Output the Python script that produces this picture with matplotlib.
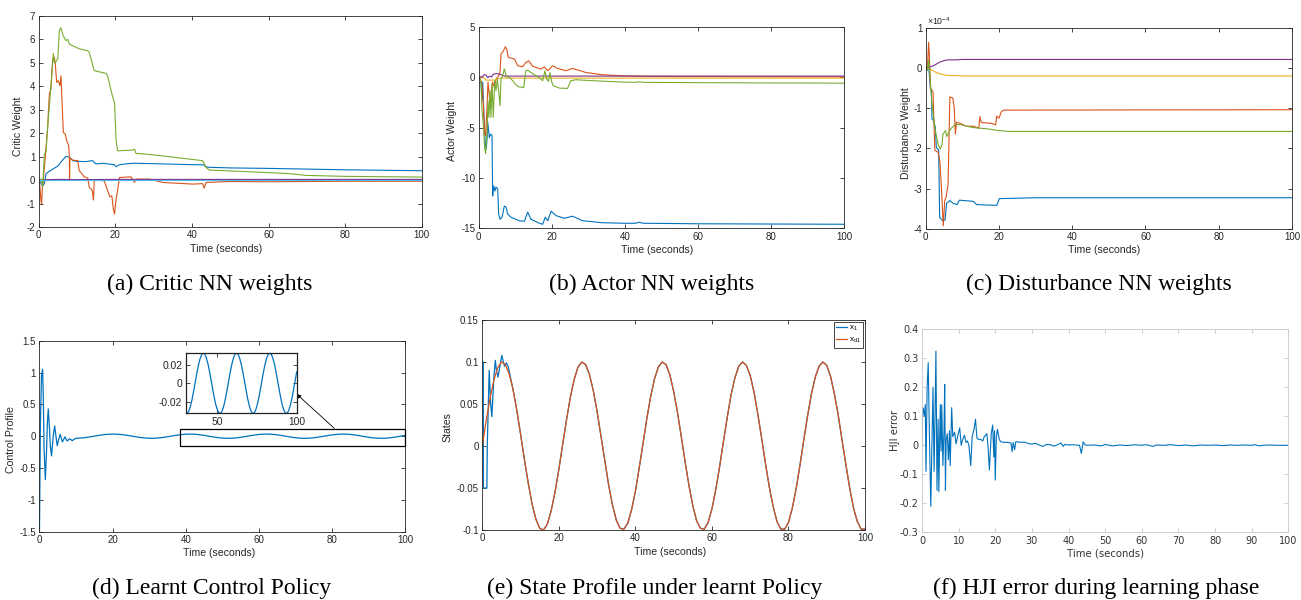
import matplotlib
matplotlib.use('Agg')
import matplotlib.pyplot as plt
from matplotlib.ticker import FuncFormatter
from matplotlib.patches import Rectangle

W, H = 1301, 600
plt.rcParams['font.family'] = ['Liberation Sans', 'DejaVu Sans']
plt.rcParams['axes.unicode_minus'] = False
plt.rcParams['mathtext.fontset'] = 'custom'
plt.rcParams['mathtext.rm'] = 'Liberation Sans'
plt.rcParams['mathtext.it'] = 'Liberation Sans:italic'
plt.rcParams['mathtext.bf'] = 'Liberation Sans:bold'
plt.rcParams['mathtext.sf'] = 'Liberation Sans'

# ---------------- DATA ----------------
# (a) critic weights: (time, value)
critic_blue = [(0, 0), (0.5, -0.1), (1.0, -0.25), (1.5, -0.15), (1.9, 0.26), (2.5, 0.35), (3.0, 0.4),
               (3.5, 0.45), (4.5, 0.55), (5.0, 0.6), (5.8, 0.77), (6.5, 0.9), (7.1, 1.01), (8.0, 0.98),
               (8.5, 0.9), (8.9, 0.83), (10, 0.8), (12.4, 0.79), (13.5, 0.82), (14.1, 0.83), (14.5, 0.75),
               (15, 0.69), (17, 0.72), (18.5, 0.68), (19.7, 0.66), (20.2, 0.57), (21, 0.65), (23, 0.7),
               (25, 0.72), (30, 0.7), (35, 0.68), (40, 0.66), (43, 0.65), (44, 0.55), (50, 0.52),
               (60, 0.5), (70, 0.47), (80, 0.44), (90, 0.42), (100, 0.4)]
critic_orange = [(0, 0), (0.17, 0), (0.6, -0.88), (0.77, -1.02), (0.95, -0.3), (1.2, 0), (1.73, 1.0),
                 (2.34, 2.25), (2.78, 3.67), (3.2, 3.9), (3.65, 5.16), (4.08, 5.23), (4.34, 4.95),
                 (4.69, 4.17), (5.1, 4.24), (5.56, 4.03), (5.82, 4.45), (6.08, 3.39), (6.43, 2.03),
                 (6.95, 1.96), (7.3, 1.68), (7.83, 1.47), (8.0, 0.97), (8.05, 0.0), (8.15, 0.95),
                 (8.87, 0.85), (10.2, 0.83), (10.6, 0.4), (11.9, 0.14), (12.8, 0.09), (13.2, -0.31),
                 (13.7, -0.38), (14.0, -0.45), (14.3, -0.85), (14.5, -0.03), (15.1, 0.0), (17.1, -0.03),
                 (18.0, -0.45), (18.6, -0.71), (19.1, -0.67), (19.5, -1.24), (19.8, -1.45), (20.0, -1.1),
                 (20.3, -0.74), (21.1, 0.11), (24.1, 0.14), (25.0, -0.1), (25.4, 0.04), (28.9, 0.04),
                 (32.4, -0.1), (40.2, -0.17), (42.8, -0.15), (43.2, -0.34), (43.7, -0.1), (50, -0.06),
                 (60, -0.07), (80, -0.05), (100, -0.05)]
critic_yellow = [(0, 0), (5, -0.01), (100, -0.02)]
critic_purple = [(0, 0), (2, 0.02), (5, 0.03), (10, 0.02), (20, 0.03), (30, 0.03), (100, 0.03)]
critic_green = [(0, 0), (0.6, 0.05), (1.04, -0.3), (1.47, 1.1), (1.9, 1.2), (2.4, 2.4), (3.0, 3.6),
                (3.5, 4.7), (3.82, 5.4), (4.1, 5.0), (4.5, 5.05), (5.0, 5.2), (5.4, 6.4), (5.8, 6.5),
                (6.3, 6.2), (7.1, 5.95), (7.6, 6.0), (8.0, 5.8), (8.9, 5.73), (10.6, 5.6), (12.8, 5.52),
                (13.2, 5.45), (14.5, 4.67), (17.6, 4.55), (18.0, 4.45), (18.9, 3.8), (19.5, 3.45),
                (19.8, 3.3), (20.2, 1.7), (20.6, 1.25), (24.5, 1.28), (25.0, 1.32), (25.4, 1.14),
                (28, 1.11), (34, 1.0), (42.8, 0.83), (43.7, 0.54), (44.6, 0.43), (48.9, 0.4), (60, 0.32),
                (65, 0.28), (70, 0.2), (80, 0.16), (100, 0.13)]
critic_cyan = [(0, 0), (100, 0)]

# (b) actor weights
actor_blue = [(0, 0), (0.17, 0), (0.63, -0.5), (0.9, -2.3), (1.09, -0.5), (1.54, -4.7), (1.8, -6.6),
              (2.09, -7.1), (2.36, -5.7), (2.45, -4.4), (2.9, -6.0), (3.27, -5.65), (3.64, -5.8),
              (3.82, -11.8), (4.09, -10.8), (4.46, -11.3), (4.73, -10.9), (5.2, -11.1), (5.46, -13.6),
              (5.83, -14.1), (6.4, -13.9), (7.0, -12.8), (7.5, -12.9), (7.92, -13.6), (8.83, -13.9),
              (11.1, -14.25), (12.5, -14.3), (13.4, -13.4), (14.3, -14.1), (16.6, -14.5), (17.5, -14.6),
              (18.2, -13.9), (18.9, -14.25), (19.8, -13.3), (21.2, -13.75), (23.4, -14.0),
              (25.7, -13.8), (28.4, -14.25), (33.9, -14.45), (40, -14.5), (43, -14.5), (43.7, -14.4),
              (45, -14.5), (60, -14.55), (100, -14.6)]
actor_orange = [(0, 0), (0.17, 0), (0.9, -0.7), (1.27, -2.7), (1.63, -5.65), (1.9, -5.8), (2.27, -3.0),
                (2.54, -0.5), (2.9, -1.85), (3.18, -3.2), (3.55, -1.0), (3.82, -0.5), (4.27, -1.0),
                (4.73, -0.2), (5.46, 0.13), (5.83, 0.46), (6.1, 2.28), (6.74, 2.6), (7.28, 3.0),
                (7.65, 2.78), (8.1, 1.95), (9.75, 1.8), (10.7, 1.12), (12.0, 1.03), (12.9, 1.45),
                (13.7, 1.62), (14.8, 1.06), (17.0, 0.8), (17.95, 1.0), (18.9, 0.63), (20.2, 1.12),
                (21.6, 0.86), (23.9, 0.63), (25.7, 0.86), (29.3, 0.46), (33.9, 0.23), (40, 0.12),
                (45, 0.08), (55, 0.05), (100, 0.02)]
actor_yellow = [(0, 0), (1.5, -0.1), (2.0, -0.3), (4.5, -0.3), (5.0, -0.2), (6.0, -0.1), (10, -0.1),
                (100, -0.1)]
actor_purple = [(0, 0), (1.0, 0.05), (1.5, 0.25), (2.0, 0.2), (2.5, -0.05), (3.0, 0.1), (3.5, 0.0),
                (4.0, 0.3), (5.0, 0.35), (6.0, 0.25), (7.0, 0.1), (10, 0.1), (100, 0.1)]
actor_green = [(0, 0), (0.17, 0), (0.63, -0.5), (0.9, -3.3), (1.27, -4.7), (1.63, -7.0), (1.9, -7.6),
               (2.27, -5.65), (2.54, -2.35), (2.8, -4.0), (3.09, -1.35), (3.36, -4.0), (3.64, -0.7),
               (4.0, -4.0), (4.37, -0.36), (4.73, -1.35), (5.1, -0.2), (5.46, -1.35), (5.83, -2.85),
               (6.1, -0.2), (6.55, 0.13), (7.0, 0.8), (7.65, 0.0), (8.4, 0.0), (9.3, -0.36), (10, -0.7),
               (10.9, -0.96), (12.3, -1.03), (12.9, 0.63), (13.4, 0.7), (14.3, 0.46), (15.7, 0.13),
               (17.0, -0.2), (17.5, -0.36), (18.1, 0.63), (18.6, -0.2), (19.1, -0.43), (19.5, 0.46),
               (20.0, -0.5), (20.4, -0.86), (22.1, -1.09), (24.3, -1.12), (25.2, -0.36), (26.6, -0.26),
               (31.2, -0.36), (40, -0.5), (43, -0.52), (44, -0.47), (45, -0.52), (60, -0.55),
               (80, -0.58), (100, -0.6)]

# (c) disturbance weights, in units of 1e-4
dist_scale = 1e-4
dist_blue = [(0, 0), (0.08, 0), (0.35, -0.07), (0.81, 0.05), (1.26, -0.48), (1.54, -0.57), (1.72, -1.27),
             (2.17, -1.31), (2.63, -1.48), (2.9, -1.98), (3.27, -2.02), (3.54, -2.04), (3.81, -3.72),
             (4.27, -3.76), (4.63, -3.8), (5.3, -3.78), (5.7, -3.37), (6.6, -3.3), (7.5, -3.37),
             (8.6, -3.4), (9.2, -3.29), (13, -3.32), (13.9, -3.4), (19.4, -3.42), (20.1, -3.25),
             (21.2, -3.25), (30, -3.23), (100, -3.23)]
dist_orange = [(0, 0), (0.5, 0.05), (0.8, 0.64), (1.0, 0.3), (1.3, -0.5), (2.0, -0.6), (2.3, -1.5),
               (2.5, -2.05), (3.4, -2.1), (3.9, -2.35), (4.3, -3.0), (4.8, -3.93), (5.2, -3.3),
               (5.6, -3.2), (6.1, -2.9), (6.6, -0.72), (7.4, -0.75), (7.8, -1.0), (8.1, -1.65),
               (8.4, -1.35), (10, -1.4), (11, -1.45), (13, -1.45), (14.5, -1.5), (14.8, -1.21),
               (15.2, -1.36), (18, -1.38), (19.1, -1.42), (19.4, -1.2), (20, -1.25), (20.6, -1.1),
               (21.2, -1.05), (100, -1.04)]
dist_yellow = [(0, 0), (1, -0.02), (2, -0.07), (3, -0.12), (4, -0.15), (5, -0.17), (6, -0.19),
               (8, -0.19), (10, -0.2), (100, -0.2)]
dist_purple = [(0, 0), (1, 0.02), (2, 0.05), (3, 0.1), (4, 0.15), (5, 0.18), (6, 0.2), (8, 0.2),
               (10, 0.21), (20, 0.21), (100, 0.21)]
dist_green = [(0, 0), (0.5, -0.05), (0.8, 0.2), (1.1, -0.1), (1.7, -0.9), (2.6, -1.56), (3.4, -1.9),
              (4.0, -2.02), (4.45, -1.9), (4.7, -1.65), (5.4, -1.56), (5.8, -1.71), (6.3, -1.6),
              (7.0, -1.5), (8.1, -1.4), (9.9, -1.42), (12.6, -1.48), (17.2, -1.52), (19.9, -1.56),
              (22.7, -1.58), (100, -1.58)]

# (d) control profile: early transient + sampled steady part (t = 10..100, step 1)
ctrl_transient = [(0, -1.8), (0.3, 0.2), (0.6, 0.95), (0.9, 1.05), (1.1, 0.6), (1.3, -0.2), (1.65, -0.68),
                  (2.0, -0.2), (2.2, 0.2), (2.45, 0.43), (2.8, 0.1), (3.0, -0.15), (3.35, -0.31),
                  (3.8, 0.0), (4.2, 0.16), (4.55, 0.0), (4.9, -0.15), (5.3, -0.05), (5.7, 0.03),
                  (6.3, -0.09), (7.0, -0.01), (7.6, -0.075), (8.3, -0.04), (9.0, -0.07), (9.5, -0.05)]
ctrl_ss_t = list(range(10, 101))
ctrl_ss_u = [-0.0329, -0.0306, -0.0255, -0.0182, -0.0092, 0.0006, 0.0103, 0.0191, 0.0262, 0.0310,
             0.0330, 0.0320, 0.0282, 0.0219, 0.0136, 0.0041, -0.0058, -0.0151, -0.0231, -0.0290,
             -0.0324, -0.0328, -0.0303, -0.0251, -0.0177, -0.0087, 0.0011, 0.0108, 0.0195, 0.0265,
             0.0311, 0.0330, 0.0319, 0.0279, 0.0215, 0.0131, 0.0036, -0.0063, -0.0156, -0.0235,
             -0.0293, -0.0325, -0.0328, -0.0301, -0.0248, -0.0172, -0.0082, 0.0017, 0.0113, 0.0200,
             0.0269, 0.0313, 0.0330, 0.0317, 0.0276, 0.0210, 0.0126, 0.0030, -0.0068, -0.0161,
             -0.0239, -0.0295, -0.0326, -0.0327, -0.0299, -0.0244, -0.0168, -0.0076, 0.0022, 0.0119,
             0.0204, 0.0272, 0.0315, 0.0330, 0.0316, 0.0273, 0.0206, 0.0121, 0.0025, -0.0074,
             -0.0166, -0.0243, -0.0298, -0.0327, -0.0326, -0.0296, -0.0240, -0.0165, -0.0071, 0.0028,
             0.0124]
zoom_box = (38.5, -0.154, 100, 0.108)       # t0, u0, t1, u1 of the highlighted region

# (e) states
state_t = list(range(0, 101))
state_xd = [0, .030, .056, .078, .093, .100, .097, .086, .068, .043,
            .014, -.016, -.044, -.069, -.087, -.098, -.100, -.093, -.077, -.055,
            -.028, .002, .031, .058, .079, .094, .100, .097, .085, .066,
            .041, .012, -.017, -.046, -.070, -.088, -.098, -.099, -.092, -.076,
            -.054, -.026, .003, .033, .059, .080, .094, .100, .097, .085,
            .065, .040, .011, -.019, -.047, -.071, -.089, -.098, -.099, -.091,
            -.075, -.052, -.025, .005, .034, .061, .081, .095, .100, .096,
            .084, .064, .038, .009, -.021, -.049, -.072, -.090, -.099, -.099,
            -.091, -.074, -.051, -.023, .007, .036, .062, .082, .095, .100,
            .096, .083, .062, .037, .007, -.022, -.050, -.074, -.090, -.099,
            -.099]
state_x1_transient = [(0, 0.1), (0.25, 0.1), (0.3, -0.05), (1.2, -0.05), (1.3, 0.0), (1.8, 0.09),
                      (2.2, 0.05), (2.5, 0.035), (3.0, 0.08), (3.4, 0.102), (3.7, 0.09), (4.1, 0.082),
                      (4.6, 0.095), (5.1, 0.108), (5.5, 0.1), (5.8, 0.095), (6.3, 0.099), (6.8, 0.094),
                      (7.3, 0.083)]
state_x1_join = 8   # from this sample on x1 follows the reference

# (f) HJI error
hji = [(0, 0.0), (0.15, 0.13), (0.3, 0.128), (0.6, 0.1), (0.9, 0.14), (1.1, -0.09), (1.4, 0.2),
       (1.7, 0.285), (2.0, 0.05), (2.4, -0.21), (2.7, 0.0), (3.0, 0.2), (3.3, -0.09), (3.55, 0.1),
       (3.8, 0.325), (4.1, -0.155), (4.4, 0.09), (4.6, -0.16), (4.8, 0.0), (5.0, 0.14), (5.2, -0.02),
       (5.4, 0.14), (5.7, -0.07), (6.0, 0.05), (6.2, 0.21), (6.4, -0.155), (6.6, 0.02), (6.9, 0.04),
       (7.2, -0.05), (7.5, 0.05), (7.7, -0.07), (8.1, 0.13), (8.4, 0.03), (8.9, 0.045), (9.3, 0.005),
       (9.8, 0.035), (10.3, 0.06), (10.7, 0.0), (11.1, 0.02), (11.6, 0.035), (12.0, 0.01),
       (12.4, 0.015), (12.8, 0.0), (13.3, -0.07), (13.7, 0.03), (14.2, 0.055), (14.6, 0.09),
       (15.0, 0.025), (15.5, 0.02), (16.1, 0.02), (16.6, 0.015), (17.0, 0.03), (17.7, 0.04),
       (18.0, 0.0), (18.4, -0.085), (18.9, 0.04), (19.3, 0.07), (19.6, -0.04), (19.8, 0.05),
       (20.0, -0.12), (20.3, 0.03), (20.6, 0.055), (21.1, 0.02), (21.5, 0.012), (22.5, 0.01),
       (23.5, 0.01), (24.3, 0.008), (24.6, -0.022), (24.9, 0.01), (25.3, -0.015), (25.6, 0.012),
       (26.0, 0.012), (27, 0.01), (28, 0.011), (29, 0.006), (30, 0.004), (31, 0.007), (32, 0.001),
       (33, -0.004), (34, 0.003), (35, 0.002), (36, -0.003), (37, 0.002), (38, 0.008),
       (38.5, -0.004), (39, 0.003), (40, 0.001), (41, 0.002), (42, 0.001), (43, 0.0),
       (43.5, -0.028), (44, 0.012), (44.5, 0.002), (45, 0.0), (47, 0.001), (49, -0.002),
       (50, 0.003), (52, -0.002), (54, 0.001), (56, -0.001), (58, 0.002), (60, 0.0), (61, 0.002),
       (62, 0.0), (63, -0.004), (64, 0.001), (66, 0.0), (68, 0.002), (70, -0.001), (72, 0.001),
       (74, -0.002), (76, 0.001), (78, 0.0), (80, 0.001), (82, -0.001), (84, 0.001), (86, 0.0),
       (88, 0.001), (90, 0.0), (91, 0.002), (92, -0.002), (93, 0.0), (95, 0.001), (97, 0.0),
       (100, 0.0)]

captions = ['(a) Critic NN weights', '(b) Actor NN weights', '(c) Disturbance NN weights',
            '(d) Learnt Control Policy', '(e) State Profile under learnt Policy',
            '(f) HJI error during learning phase']
ylabels = ['Critic Weight', 'Actor Weight', 'Disturbance Weight', 'Control Profile', 'States', 'HJI error']
xlabel = 'Time (seconds)'

# ---------------- STYLE ----------------
C_BLUE, C_ORANGE, C_YELLOW = '#0072BD', '#D95319', '#EDB120'
C_PURPLE, C_GREEN, C_CYAN = '#7E2F8E', '#77AC30', '#4DBEEE'
AXC = '#262626'


def unzip(pts):
    return [p[0] for p in pts], [p[1] for p in pts]


def rect(l, r, t, b):
    return [l / W, 1 - b / H, (r - l) / W, (b - t) / H]


def mfmt(v, pos=None):
    s = '%g' % round(v, 6)
    return '0' if s == '-0' else s


def style(ax, color=AXC, labcolor=AXC, family=None, size=7.0):
    for s in ax.spines.values():
        s.set_color(color)
        s.set_linewidth(0.6)
    ax.tick_params(direction='in', which='both', top=True, right=True, length=3, width=0.6,
                   color=color, labelcolor=labcolor, labelsize=size, pad=2.5)
    if family:
        for lab in ax.get_xticklabels() + ax.get_yticklabels():
            lab.set_family(family)


def labels(ax, box, ylab, ylab_px, xlab_px, family=None, color=AXC, size=7.6):
    l, r, t, b = box
    kw = dict(fontsize=size, color=color)
    if family:
        kw['family'] = family
    ax.set_ylabel(ylab, va='center', ha='center', **kw)
    ax.yaxis.set_label_coords((ylab_px[0] - l) / (r - l), (b - ylab_px[1]) / (b - t))
    ax.set_xlabel(xlabel, va='center', ha='center', **kw)
    ax.xaxis.set_label_coords((xlab_px[0] - l) / (r - l), (b - xlab_px[1]) / (b - t))


fig = plt.figure(figsize=(W / 100, H / 100), dpi=100)
LW = 0.8

# (a)
box_a = (38.7, 421.7, 16, 227)
ax = fig.add_axes(rect(*box_a))
for pts, c in [(critic_blue, C_BLUE), (critic_orange, C_ORANGE), (critic_yellow, C_YELLOW),
               (critic_purple, C_PURPLE), (critic_green, C_GREEN), (critic_cyan, C_CYAN)]:
    ax.plot(*unzip(pts), color=c, lw=LW)
ax.set_xlim(0, 100)
ax.set_ylim(-2, 7)
ax.set_xticks(range(0, 101, 20))
ax.set_yticks(range(-2, 8))
ax.xaxis.set_major_formatter(FuncFormatter(mfmt))
ax.yaxis.set_major_formatter(FuncFormatter(mfmt))
style(ax)
labels(ax, box_a, ylabels[0], (18, 126), (226, 249))

# (b)
box_b = (478.7, 844.3, 26.7, 228.3)
ax = fig.add_axes(rect(*box_b))
for pts, c in [(actor_blue, C_BLUE), (actor_orange, C_ORANGE), (actor_yellow, C_YELLOW),
               (actor_purple, C_PURPLE), (actor_green, C_GREEN)]:
    ax.plot(*unzip(pts), color=c, lw=LW)
ax.set_xlim(0, 100)
ax.set_ylim(-15, 5)
ax.set_xticks(range(0, 101, 20))
ax.set_yticks(range(-15, 6, 5))
ax.xaxis.set_major_formatter(FuncFormatter(mfmt))
ax.yaxis.set_major_formatter(FuncFormatter(mfmt))
style(ax)
labels(ax, box_b, ylabels[1], (452, 131), (657.5, 250))

# (c)
box_c = (925.7, 1292, 27.7, 228.7)
ax = fig.add_axes(rect(*box_c))
for pts, c in [(dist_blue, C_BLUE), (dist_orange, C_ORANGE), (dist_yellow, C_YELLOW),
               (dist_purple, C_PURPLE), (dist_green, C_GREEN)]:
    tt, vv = unzip(pts)
    ax.plot(tt, [v * dist_scale for v in vv], color=c, lw=LW)
ax.set_xlim(0, 100)
ax.set_ylim(-4 * dist_scale, 1 * dist_scale)
ax.set_xticks(range(0, 101, 20))
ax.set_yticks([k * dist_scale for k in range(-4, 2)])
ax.xaxis.set_major_formatter(FuncFormatter(mfmt))
ax.yaxis.set_major_formatter(FuncFormatter(lambda v, p: mfmt(v / dist_scale)))
style(ax)
labels(ax, box_c, ylabels[2], (906, 133), (1104.5, 250))
ax.text(0.003, 1.0 + (27.7 - 21) / 201, r'$\times$10$^{\mathrm{-4}}$', transform=ax.transAxes,
        ha='left', va='center', fontsize=6.3, color=AXC)

# (d)
box_d = (39.3, 405.3, 340.7, 531.7)
ax = fig.add_axes(rect(*box_d))
tt, uu = unzip(ctrl_transient)
ax.plot(tt + ctrl_ss_t, uu + ctrl_ss_u, color=C_BLUE, lw=0.9)
ax.set_xlim(0, 100)
ax.set_ylim(-1.5, 1.5)
ax.set_xticks(range(0, 101, 20))
ax.set_yticks([-1.5, -1, -0.5, 0, 0.5, 1, 1.5])
ax.xaxis.set_major_formatter(FuncFormatter(mfmt))
ax.yaxis.set_major_formatter(FuncFormatter(mfmt))
style(ax)
labels(ax, box_d, ylabels[3], (11, 440), (219, 553.5))
t0, u0, t1, u1 = zoom_box
ax.add_patch(Rectangle((t0, u0), t1 - t0, u1 - u0, fill=False, ec='black', lw=0.9, clip_on=False,
                       zorder=5))
ax.annotate('', xy=(70.3, 0.663), xytext=(80.6, 0.124),
            arrowprops=dict(arrowstyle='-|>', color='black', lw=0.6, mutation_scale=6,
                            shrinkA=0, shrinkB=0))
# inset
ins = fig.add_axes(rect(185.7, 296.7, 352.7, 413.3))
ins.plot(ctrl_ss_t, ctrl_ss_u, color=C_BLUE, lw=0.9)
ins.set_xlim(30, 100)
ins.set_ylim(-0.0328, 0.0334)
ins.set_xticks([50, 100])
ins.set_yticks([-0.02, 0, 0.02])
ins.xaxis.set_major_formatter(FuncFormatter(mfmt))
ins.yaxis.set_major_formatter(FuncFormatter(mfmt))
style(ins, size=7.4)
for s in ins.spines.values():
    s.set_linewidth(0.9)
    s.set_color('#222222')

# (e)
box_e = (482.3, 865, 320, 530)
ax = fig.add_axes(rect(*box_e))
tx, vx = unzip(state_x1_transient)
ax.plot(tx + state_t[state_x1_join:], vx + state_xd[state_x1_join:], color=C_BLUE, lw=0.9,
        label=r'x$_{1}$')
ax.plot(state_t, state_xd, color=C_ORANGE, lw=0.9, label=r'x$_{\mathrm{d1}}$')
ax.set_xlim(0, 100)
ax.set_ylim(-0.1, 0.15)
ax.set_xticks(range(0, 101, 20))
ax.set_yticks([-0.1, -0.05, 0, 0.05, 0.1, 0.15])
ax.xaxis.set_major_formatter(FuncFormatter(mfmt))
ax.yaxis.set_major_formatter(FuncFormatter(mfmt))
style(ax)
labels(ax, box_e, ylabels[4], (447, 427), (670.5, 552))
leg = ax.legend(loc='upper right', bbox_to_anchor=(1.0, 1.0), fontsize=5.8, handlelength=1.4,
                handletextpad=0.2, borderpad=0.3, labelspacing=0.35, borderaxespad=0.2,
                fancybox=False, framealpha=1)
leg.get_frame().set_edgecolor(AXC)
leg.get_frame().set_linewidth(0.6)

# (f)
box_f = (922, 1288.3, 329.3, 532.3)
ax = fig.add_axes(rect(*box_f))
ax.plot(*unzip(hji), color=C_BLUE, lw=0.8)
ax.set_xlim(0, 100)
ax.set_ylim(-0.3, 0.4)
ax.set_xticks(range(0, 101, 10))
ax.set_yticks([-0.3, -0.2, -0.1, 0, 0.1, 0.2, 0.3, 0.4])
ax.xaxis.set_major_formatter(FuncFormatter(mfmt))
ax.yaxis.set_major_formatter(FuncFormatter(mfmt))
style(ax, color='#c8c8c8', labcolor='#333333', family='DejaVu Sans', size=7.0)
labels(ax, box_f, ylabels[5], (894.5, 430), (1106, 553), family='DejaVu Sans', color='#333333',
       size=7.3)

# captions
cap_pos = [(210, 284), (652, 284), (1099, 284), (212, 588), (655, 588), (1096, 588)]
for (cx, cy), txt in zip(cap_pos, captions):
    fig.text(cx / W, 1 - cy / H, txt, ha='center', va='center', family='Liberation Serif',
             fontsize=17, color='black')

fig.savefig('out.png', dpi=100)
